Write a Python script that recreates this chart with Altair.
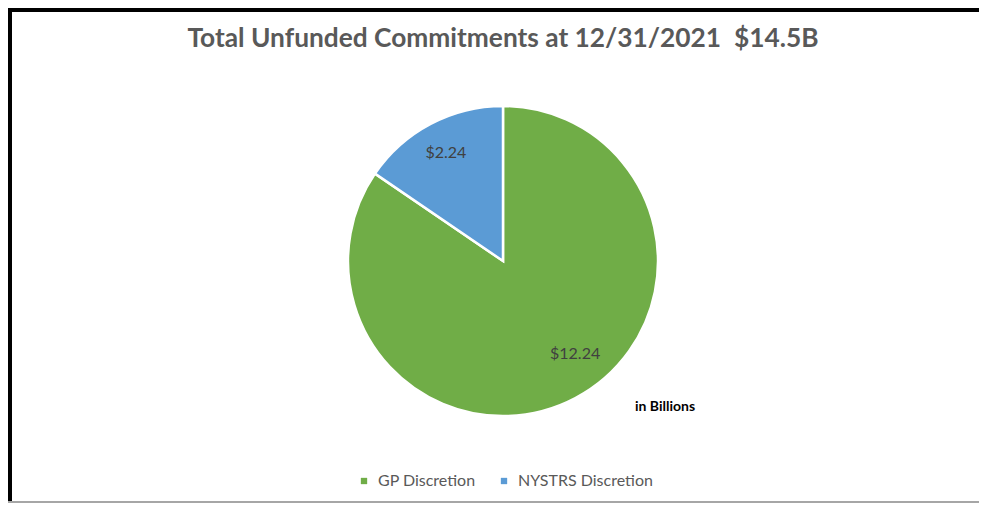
import altair as alt
import pandas as pd

categories = ["GP Discretion", "NYSTRS Discretion"]
values = [12.24, 2.24]
labels = ["$12.24", "$2.24"]
colors = ["#70AD47", "#5B9BD5"]
title_text = "Total Unfunded Commitments at 12/31/2021\u00a0\u00a0$14.5B"
note_text = "in Billions"

df = pd.DataFrame({"category": categories, "value": values, "label": labels, "order": [0, 1]})

W, H = 971, 495
CX, CY, R = 495, 253, 155
FONT = "Lato"

base = alt.Chart(df).encode(
    theta=alt.Theta("value:Q", stack=True),
    order=alt.Order("order:Q"),
)

pie = base.mark_arc(outerRadius=R, stroke="white", strokeWidth=2.5).encode(
    x=alt.value(CX), y=alt.value(CY),
    color=alt.Color(
        "category:N",
        scale=alt.Scale(domain=categories, range=colors),
        legend=alt.Legend(
            title=None, orient="none", direction="horizontal",
            legendX=348, legendY=465,
            symbolType="square", symbolSize=40, symbolStrokeWidth=0,
            labelFont=FONT, labelFontSize=16, labelColor="#595959",
            columnPadding=20, labelOffset=6,
        ),
    ),
)

txt_big = base.mark_text(radius=118, dx=17, dy=-11, font=FONT, fontSize=16, color="#404040").encode(
    x=alt.value(CX), y=alt.value(CY),
    text=alt.condition(alt.datum.order == 0, "label:N", alt.value("")),
)

txt_small = base.mark_text(radius=118, dx=-2, dy=-4, font=FONT, fontSize=16, color="#404040").encode(
    x=alt.value(CX), y=alt.value(CY),
    text=alt.condition(alt.datum.order == 1, "label:N", alt.value("")),
)

title = alt.Chart(pd.DataFrame({"t": [title_text]})).mark_text(
    font=FONT, fontSize=26.3, fontWeight="bold", color="#595959", align="center", baseline="middle"
).encode(x=alt.value(495), y=alt.value(31), text="t:N")

note = alt.Chart(pd.DataFrame({"t": [note_text]})).mark_text(
    font=FONT, fontSize=14, fontWeight="bold", color="#000000", align="left", baseline="middle"
).encode(x=alt.value(627), y=alt.value(399), text="t:N")

frame = pd.DataFrame({"a": [0]})
top_line = alt.Chart(frame).mark_rule(color="black", strokeWidth=4).encode(
    x=alt.value(0), x2=alt.value(W), y=alt.value(2)
)
left_line = alt.Chart(frame).mark_rule(color="black", strokeWidth=4).encode(
    x=alt.value(2), y=alt.value(0), y2=alt.value(H)
)
bottom_line = alt.Chart(frame).mark_rule(color="#A6A6A6", strokeWidth=2).encode(
    x=alt.value(0), x2=alt.value(W), y=alt.value(H - 1)
)

chart = alt.layer(pie, txt_big, txt_small, title, note, top_line, left_line, bottom_line).properties(
    width=W, height=H, autosize=alt.AutoSizeParams(type="none"), padding=0, background="white"
).configure_view(stroke=None)

chart.save("out.html", embed_options={"renderer": "svg", "actions": False})
